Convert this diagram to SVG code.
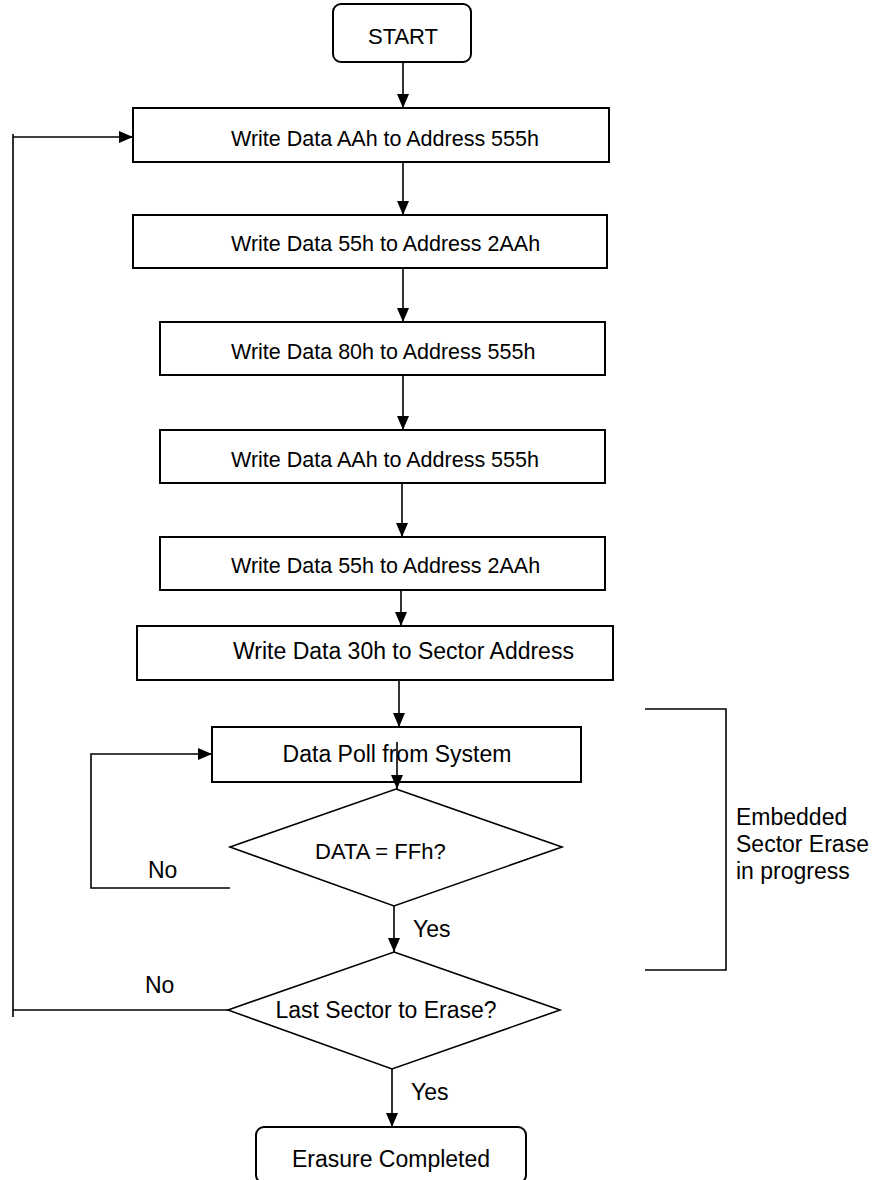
<svg xmlns="http://www.w3.org/2000/svg" width="880" height="1180" viewBox="0 0 880 1180">
<style>
text{font-family:"Liberation Sans",Arial,sans-serif;font-size:23px;fill:#000}
.s{font-size:21.5px}
.box{fill:#fff;stroke:#000;stroke-width:2}
.dia{fill:#fff;stroke:#000;stroke-width:1.6}
.ln{fill:none;stroke:#000;stroke-width:1.6}
.c{text-anchor:middle}
</style>
<defs>
<marker id="ah" viewBox="0 0 14 12" refX="14" refY="6" markerWidth="14" markerHeight="12" markerUnits="userSpaceOnUse" orient="auto">
<path d="M0,0 L14,6 L0,12 Z" fill="#000"/>
</marker>
</defs>
<rect width="880" height="1180" fill="#fff"/>
<g id="connectors">
<line class="ln" x1="403" y1="62" x2="403" y2="108" marker-end="url(#ah)"/>
<line class="ln" x1="403" y1="162" x2="403" y2="215" marker-end="url(#ah)"/>
<line class="ln" x1="403" y1="268" x2="403" y2="322" marker-end="url(#ah)"/>
<line class="ln" x1="403" y1="375" x2="403" y2="430" marker-end="url(#ah)"/>
<line class="ln" x1="402" y1="483" x2="402" y2="537" marker-end="url(#ah)"/>
<line class="ln" x1="401" y1="590" x2="401" y2="626" marker-end="url(#ah)"/>
<line class="ln" x1="399" y1="680" x2="399" y2="727" marker-end="url(#ah)"/>
<polyline class="ln" points="230,888 91,888 91,754 212,754" marker-end="url(#ah)"/>
<polyline class="ln" points="228,1010 13,1010"/>
<line class="ln" x1="13" y1="134" x2="13" y2="1017"/>
<line class="ln" x1="13" y1="137" x2="133" y2="137" marker-end="url(#ah)"/>
<line class="ln" x1="394" y1="906" x2="394" y2="952" marker-end="url(#ah)"/>
<line class="ln" x1="392" y1="1069" x2="392" y2="1127" marker-end="url(#ah)"/>
<polyline class="ln" points="645,709 726,709 726,970 645,970"/>
<text x="148" y="878">No</text>
<text x="145" y="993">No</text>
<text x="413" y="937">Yes</text>
<text x="411" y="1100">Yes</text>
</g>
<g id="start">
<rect class="box" x="333" y="4" width="138" height="58" rx="8"/>
<text class="c" x="403" y="44" style="font-size:22px">START</text>
</g>
<g id="step1">
<rect class="box" x="133" y="108" width="476" height="54"/>
<text class="s" x="231" y="146">Write Data AAh to Address 555h</text>
</g>
<g id="step2">
<rect class="box" x="133" y="215" width="474" height="53"/>
<text class="s" x="231" y="251">Write Data 55h to Address 2AAh</text>
</g>
<g id="step3">
<rect class="box" x="160" y="322" width="445" height="53"/>
<text class="s" x="231" y="359">Write Data 80h to Address 555h</text>
</g>
<g id="step4">
<rect class="box" x="160" y="430" width="445" height="53"/>
<text class="s" x="231" y="467">Write Data AAh to Address 555h</text>
</g>
<g id="step5">
<rect class="box" x="160" y="537" width="445" height="53"/>
<text class="s" x="231" y="573">Write Data 55h to Address 2AAh</text>
</g>
<g id="step6">
<rect class="box" x="137" y="626" width="476" height="54"/>
<text x="233" y="659">Write Data 30h to Sector Address</text>
</g>
<g id="poll">
<rect class="box" x="212" y="727" width="369" height="55"/>
<text class="c" x="397" y="762">Data Poll from System</text>
</g>
<line class="ln" x1="397" y1="742" x2="397" y2="789" marker-end="url(#ah)"/>
<g id="check-data">
<polygon class="dia" points="396,789 562,847 394,906 230,847"/>
<text x="315" y="859" style="font-size:22px">DATA = FFh?</text>
</g>
<g id="check-last">
<polygon class="dia" points="394,952 560,1010 392,1069 228,1010"/>
<text class="c" x="386" y="1018">Last Sector to Erase?</text>
</g>
<g id="done">
<rect class="box" x="256" y="1127" width="270" height="56" rx="8"/>
<text class="c" x="391" y="1167">Erasure Completed</text>
</g>
<g id="bracket-label">
<text x="736" y="825">Embedded</text>
<text x="736" y="852">Sector Erase</text>
<text x="736" y="879">in progress</text>
</g>
</svg>
